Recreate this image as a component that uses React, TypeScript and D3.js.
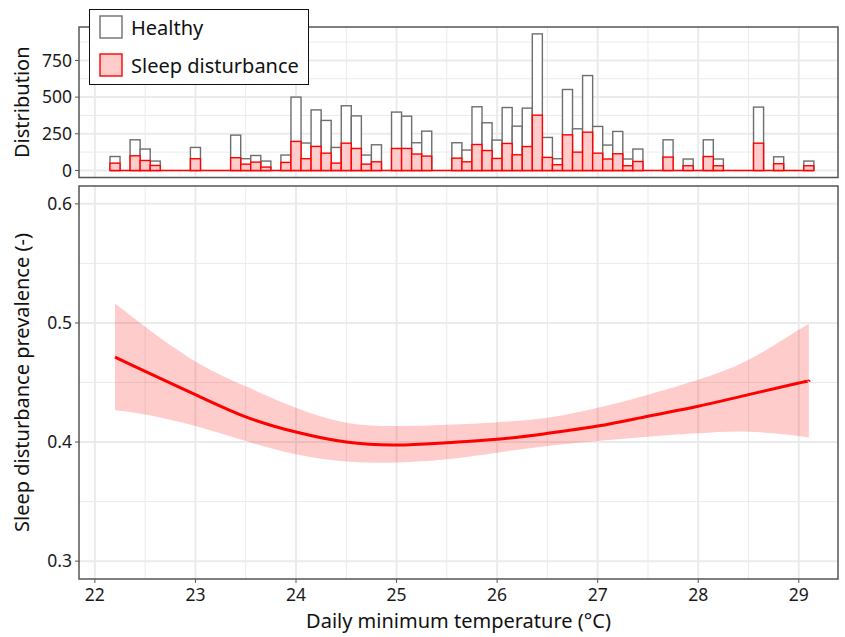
import React from "react";
import * as d3 from "d3";

// histogram bins (temperature, 0.1 °C wide)
const binTemps = [
  22.2, 22.3, 22.4, 22.5, 22.6, 22.7, 22.8, 22.9, 23.0, 23.1, 23.2, 23.3, 23.4, 23.5, 23.6, 23.7, 23.8, 23.9,
  24.0, 24.1, 24.2, 24.3, 24.4, 24.5, 24.6, 24.7, 24.8, 24.9, 25.0, 25.1, 25.2, 25.3, 25.4, 25.5, 25.6, 25.7,
  25.8, 25.9, 26.0, 26.1, 26.2, 26.3, 26.4, 26.5, 26.6, 26.7, 26.8, 26.9, 27.0, 27.1, 27.2, 27.3, 27.4, 27.5,
  27.6, 27.7, 27.8, 27.9, 28.0, 28.1, 28.2, 28.3, 28.4, 28.5, 28.6, 28.7, 28.8, 28.9, 29.0, 29.1,
];
const healthyCounts = [
  95, 0, 209, 146, 64, 0, 0, 0, 157, 0, 0, 0, 241, 80, 102, 64, 0, 105,
  500, 187, 413, 341, 157, 441, 372, 105, 175, 0, 398, 370, 189, 268, 0, 0, 189, 139,
  434, 325, 207, 429, 302, 425, 931, 225, 80, 552, 284, 647, 300, 173, 266, 78, 146, 0,
  0, 209, 0, 78, 0, 209, 78, 0, 0, 0, 432, 0, 93, 0, 0, 64,
];
const sleepCounts = [
  50, 0, 100, 68, 34, 0, 0, 0, 80, 0, 0, 0, 87, 43, 57, 23, 0, 55,
  198, 80, 164, 118, 50, 186, 150, 43, 59, 0, 150, 150, 112, 98, 0, 0, 84, 59,
  177, 136, 82, 184, 107, 163, 377, 89, 39, 243, 125, 261, 118, 78, 114, 32, 61, 0,
  0, 91, 0, 32, 0, 95, 32, 0, 0, 0, 186, 0, 46, 0, 0, 32,
];

// smoothed prevalence with confidence band
const fitTemps = [22.2, 22.5, 23.0, 23.5, 24.0, 24.5, 25.0, 25.5, 26.0, 26.5, 27.0, 27.5, 28.0, 28.5, 29.0, 29.1];
const fitValues = [0.4713, 0.4593, 0.4398, 0.4212, 0.4084, 0.4, 0.3975, 0.3995, 0.4023, 0.4073, 0.4134, 0.4217, 0.4301, 0.4398, 0.4496, 0.451];
const fitUpper = [0.5165, 0.4969, 0.4677, 0.4468, 0.4287, 0.4162, 0.4134, 0.4145, 0.4167, 0.4204, 0.4287, 0.4398, 0.4524, 0.4691, 0.4942, 0.4989];
const fitLower = [0.4267, 0.4231, 0.4134, 0.4008, 0.3897, 0.3836, 0.3828, 0.3855, 0.3911, 0.3967, 0.4008, 0.4045, 0.4073, 0.4087, 0.405, 0.4031];

const xTicks = [22, 23, 24, 25, 26, 27, 28, 29];
const xMinor = [22.5, 23.5, 24.5, 25.5, 26.5, 27.5, 28.5];
const countTicks = [0, 250, 500, 750];
const countMinor = [125, 375, 625, 875];
const prevTicks = [0.3, 0.4, 0.5, 0.6];
const prevMinor = [0.35, 0.45, 0.55];

const W = 845;
const H = 637;
const left = 79;
const right = 838;
const topPanel = { y0: 27, y1: 177.5 };
const botPanel = { y0: 186, y1: 579 };
const font = "'Noto Sans', sans-serif";
const grid = "#EBEBEB";
const binW = 0.1;

export default function App() {
  const x = d3.scaleLinear().domain([21.842, 29.39]).range([left, right]);
  const yc = d3.scaleLinear().domain([-48, 978]).range([topPanel.y1, topPanel.y0]);
  const yp = d3.scaleLinear().domain([0.285, 0.615]).range([botPanel.y1, botPanel.y0]);

  const line = d3
    .line<number>()
    .x((_, i) => x(fitTemps[i]))
    .y((d) => yp(d))
    .curve(d3.curveNatural);
  const area = d3
    .area<number>()
    .x((_, i) => x(fitTemps[i]))
    .y0((_, i) => yp(fitLower[i]))
    .y1((d) => yp(d))
    .curve(d3.curveNatural);

  const barX = (t: number) => x(t - binW / 2);
  const barW = x(binW) - x(0);
  const firstBin = binTemps[0];
  const lastBin = binTemps[binTemps.length - 1];

  return (
    <svg width={W} height={H} style={{ position: "absolute", left: 0, top: 0 }} fontFamily={font}>
      <rect width={W} height={H} fill="white" />
      {/* top panel grid */}
      <g>
        {countMinor.map((v) => (
          <line key={"cm" + v} x1={left} x2={right} y1={yc(v)} y2={yc(v)} stroke={grid} strokeWidth={1} />
        ))}
        {xMinor.map((v) => (
          <line key={"txm" + v} x1={x(v)} x2={x(v)} y1={topPanel.y0} y2={topPanel.y1} stroke={grid} strokeWidth={1} />
        ))}
        {countTicks.map((v) => (
          <line key={"cM" + v} x1={left} x2={right} y1={yc(v)} y2={yc(v)} stroke={grid} strokeWidth={2} />
        ))}
        {xTicks.map((v) => (
          <line key={"txM" + v} x1={x(v)} x2={x(v)} y1={topPanel.y0} y2={topPanel.y1} stroke={grid} strokeWidth={2} />
        ))}
      </g>
      {/* histogram */}
      <g>
        {binTemps.map((t, i) =>
          healthyCounts[i] > 0 ? (
            <rect
              key={"h" + t}
              x={barX(t)}
              width={barW}
              y={yc(healthyCounts[i])}
              height={yc(0) - yc(healthyCounts[i])}
              fill="white"
              stroke="#6E6E6E"
              strokeWidth={1.4}
            />
          ) : null
        )}
        <line x1={barX(firstBin)} x2={barX(lastBin) + barW} y1={yc(0)} y2={yc(0)} stroke="#FF0000" strokeWidth={1.6} />
        {binTemps.map((t, i) =>
          sleepCounts[i] > 0 ? (
            <rect
              key={"s" + t}
              x={barX(t)}
              width={barW}
              y={yc(sleepCounts[i])}
              height={yc(0) - yc(sleepCounts[i])}
              fill="#FFCCCC"
              stroke="#FF0000"
              strokeWidth={1.4}
            />
          ) : null
        )}
      </g>
      <rect x={left} y={topPanel.y0} width={right - left} height={topPanel.y1 - topPanel.y0} fill="none" stroke="#555" strokeWidth={1.5} />
      {countTicks.map((v) => (
        <g key={"ct" + v}>
          <line x1={left - 4} x2={left} y1={yc(v)} y2={yc(v)} stroke="#555" strokeWidth={1} />
          <text x={left - 7} y={yc(v)} dy="0.35em" textAnchor="end" fontSize={17.5} fill="#1a1a1a">
            {v}
          </text>
        </g>
      ))}
      <text transform={`translate(29,${(topPanel.y0 + topPanel.y1) / 2}) rotate(-90)`} textAnchor="middle" fontSize={20} fill="#111">
        Distribution
      </text>

      {/* bottom panel grid */}
      <g>
        {prevMinor.map((v) => (
          <line key={"pm" + v} x1={left} x2={right} y1={yp(v)} y2={yp(v)} stroke={grid} strokeWidth={1} />
        ))}
        {xMinor.map((v) => (
          <line key={"bxm" + v} x1={x(v)} x2={x(v)} y1={botPanel.y0} y2={botPanel.y1} stroke={grid} strokeWidth={1} />
        ))}
        {prevTicks.map((v) => (
          <line key={"pM" + v} x1={left} x2={right} y1={yp(v)} y2={yp(v)} stroke={grid} strokeWidth={2} />
        ))}
        {xTicks.map((v) => (
          <line key={"bxM" + v} x1={x(v)} x2={x(v)} y1={botPanel.y0} y2={botPanel.y1} stroke={grid} strokeWidth={2} />
        ))}
      </g>
      <path d={area(fitUpper) || ""} fill="#FF0000" fillOpacity={0.2} />
      <path d={line(fitValues) || ""} fill="none" stroke="#FF0000" strokeWidth={3} />
      <rect x={left} y={botPanel.y0} width={right - left} height={botPanel.y1 - botPanel.y0} fill="none" stroke="#555" strokeWidth={1.5} />
      {prevTicks.map((v) => (
        <g key={"pt" + v}>
          <line x1={left - 4} x2={left} y1={yp(v)} y2={yp(v)} stroke="#555" strokeWidth={1} />
          <text x={left - 7} y={yp(v)} dy="0.35em" textAnchor="end" fontSize={17.5} fill="#1a1a1a">
            {v.toFixed(1)}
          </text>
        </g>
      ))}
      {xTicks.map((v) => (
        <g key={"xt" + v}>
          <line x1={x(v)} x2={x(v)} y1={botPanel.y1} y2={botPanel.y1 + 4} stroke="#555" strokeWidth={1} />
          <text x={x(v)} y={botPanel.y1 + 22} textAnchor="middle" fontSize={17.5} fill="#1a1a1a">
            {v}
          </text>
        </g>
      ))}
      <text transform={`translate(29,${(botPanel.y0 + botPanel.y1) / 2}) rotate(-90)`} textAnchor="middle" fontSize={20} fill="#111">
        Sleep disturbance prevalence (-)
      </text>
      <text x={(left + right) / 2} y={628} textAnchor="middle" fontSize={20} fill="#111">
        Daily minimum temperature (°C)
      </text>

      {/* legend */}
      <g>
        <rect x={89.5} y={9.5} width={219} height={75} fill="white" stroke="#111" strokeWidth={1} />
        <rect x={100} y={16} width={22} height={22} fill="white" stroke="#6E6E6E" strokeWidth={1.4} />
        <text x={131} y={35} fontSize={20} fill="#111">
          Healthy
        </text>
        <rect x={100} y={54} width={22} height={22} fill="#FFCCCC" stroke="#FF0000" strokeWidth={1.4} />
        <text x={131} y={73} fontSize={20} fill="#111">
          Sleep disturbance
        </text>
      </g>
    </svg>
  );
}
